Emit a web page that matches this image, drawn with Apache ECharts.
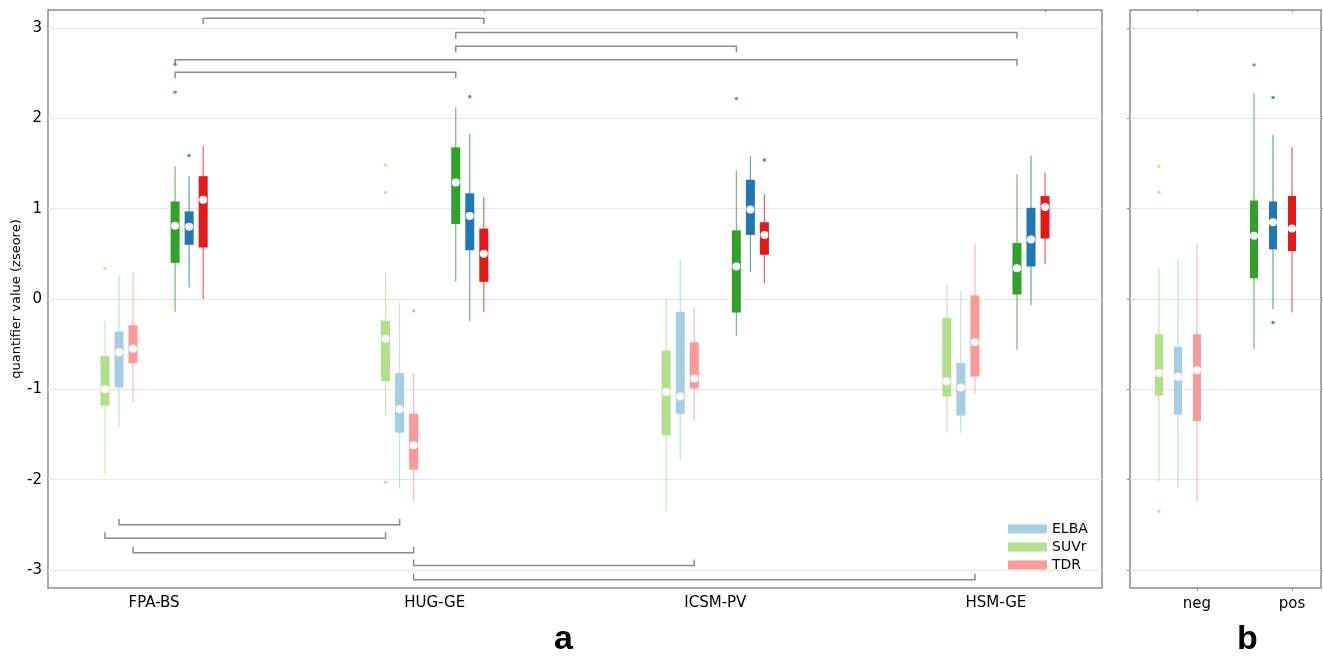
<!DOCTYPE html>
<html>
<head>
<meta charset="utf-8">
<script src="https://cdn.jsdelivr.net/npm/echarts@6/dist/echarts.min.js"></script>
<style>
html,body{margin:0;padding:0;background:#fff;}
#chart{width:1323px;height:657px;}
</style>
</head>
<body>
<div id="chart"></div>
<script>
// ---------------- DATA ----------------
const categoriesA = ['FPA-BS', 'HUG-GE', 'ICSM-PV', 'HSM-GE'];
const groupsB = ['neg', 'pos'];
const methods = ['SUVr', 'ELBA', 'TDR'];
const yTicks = [-3, -2, -1, 0, 1, 2, 3];

// box stats per category: [min, q1, median, q3, max]
const suvrNegA = [[-1.94, -1.18, -1.00, -0.63, -0.24], [-1.30, -0.91, -0.44, -0.24, 0.29], [-2.35, -1.51, -1.03, -0.57, 0.01], [-1.48, -1.08, -0.91, -0.21, 0.17]];
const elbaNegA = [[-1.42, -0.98, -0.59, -0.36, 0.27], [-2.09, -1.48, -1.22, -0.82, -0.04], [-1.79, -1.27, -1.08, -0.14, 0.44], [-1.48, -1.29, -0.98, -0.71, 0.09]];
const tdrNegA  = [[-1.14, -0.71, -0.55, -0.29, 0.29], [-2.24, -1.89, -1.62, -1.27, -0.82], [-1.35, -0.99, -0.88, -0.48, -0.09], [-1.05, -0.86, -0.48, 0.04, 0.61]];
const suvrPosA = [[-0.14, 0.40, 0.81, 1.08, 1.47], [0.19, 0.83, 1.29, 1.68, 2.12], [-0.41, -0.15, 0.36, 0.76, 1.42], [-0.56, 0.05, 0.34, 0.62, 1.38]];
const elbaPosA = [[0.13, 0.60, 0.80, 0.97, 1.36], [-0.25, 0.54, 0.92, 1.17, 1.83], [0.30, 0.71, 0.99, 1.32, 1.58], [-0.07, 0.36, 0.66, 1.01, 1.59]];
const tdrPosA  = [[0.00, 0.57, 1.10, 1.36, 1.69], [-0.14, 0.19, 0.50, 0.78, 1.13], [0.17, 0.49, 0.71, 0.85, 1.16], [0.39, 0.67, 1.02, 1.14, 1.40]];

// outliers: [categoryIndex, value]
const suvrNegOutA = [[0, 0.34], [1, 1.48], [1, 1.18], [1, -2.03]];
const elbaNegOutA = [];
const tdrNegOutA  = [[1, -0.13]];
const suvrPosOutA = [[0, 2.29], [0, 2.60], [2, 2.22]];
const elbaPosOutA = [[0, 1.59], [1, 2.24]];
const tdrPosOutA  = [[2, 1.54]];

// panel b: [neg, pos] each [min, q1, median, q3, max]
const suvrB = [[-2.02, -1.07, -0.82, -0.39, 0.34], [-0.56, 0.23, 0.70, 1.09, 2.28]];
const elbaB = [[-2.09, -1.28, -0.86, -0.53, 0.44], [-0.11, 0.55, 0.85, 1.08, 1.82]];
const tdrB  = [[-2.24, -1.35, -0.79, -0.39, 0.61], [-0.15, 0.53, 0.78, 1.14, 1.68]];
const suvrOutB = [[0, 1.47], [0, 1.18], [0, -2.35], [1, 2.59]];
const elbaOutB = [[1, 2.23], [1, -0.26]];
const tdrOutB  = [];

// significance brackets: [categoryFrom, categoryTo, method, group, yLevel]
const bracketsTop = [
  [0, 1, 'TDR', 'pos', 3.11],
  [1, 3, 'SUVr', 'pos', 2.95],
  [1, 2, 'SUVr', 'pos', 2.80],
  [0, 3, 'SUVr', 'pos', 2.65],
  [0, 1, 'SUVr', 'pos', 2.51]
];
const bracketsBottom = [
  [0, 1, 'ELBA', 'neg', -2.50],
  [0, 1, 'SUVr', 'neg', -2.65],
  [0, 1, 'TDR', 'neg', -2.81],
  [1, 2, 'TDR', 'neg', -2.95],
  [1, 3, 'TDR', 'neg', -3.11]
];

// ---------------- STYLE / LAYOUT ----------------
const FONT = 'DejaVu Sans';
const colors = [
  ['#b2df8a', '#a6cee3', '#fb9a99'], // neg (light)
  ['#33a02c', '#1f78b4', '#e31a1c']  // pos (dark)
];
const gray = '#8c8c8c';

function offA(m, g) { return (g === 0 ? -0.175 : 0.075) + 0.05 * m; }
function offB(m) { return (m - 1) * 0.2; }

function boxRender(w) {
  return function (params, api) {
    const x = api.value(0);
    const c = api.visual('color');
    const lo = api.coord([x, api.value(1)]);
    const q1 = api.coord([x, api.value(2)]);
    const md = api.coord([x, api.value(3)]);
    const q3 = api.coord([x, api.value(4)]);
    const hi = api.coord([x, api.value(5)]);
    return {
      type: 'group',
      children: [
        { type: 'line', shape: { x1: lo[0], y1: hi[1], x2: lo[0], y2: lo[1] }, style: { stroke: c, lineWidth: 1.2, opacity: 0.7 } },
        { type: 'rect', shape: { x: q3[0] - w / 2, y: q3[1], width: w, height: q1[1] - q3[1] }, style: { fill: c } },
        { type: 'circle', shape: { cx: md[0], cy: md[1], r: 4 }, style: { fill: '#ffffff' } }
      ]
    };
  };
}

function bracketRender(params, api) {
  const y = api.value(2);
  const dir = api.value(3);
  const p1 = api.coord([api.value(0), y]);
  const p2 = api.coord([api.value(1), y]);
  const t = 6 * dir;
  return {
    type: 'polyline',
    shape: { points: [[p1[0], p1[1] + t], [p1[0], p1[1]], [p2[0], p2[1]], [p2[0], p2[1] + t]] },
    style: { stroke: gray, lineWidth: 1.5, fill: null }
  };
}

const boxesA = [[suvrNegA, suvrPosA], [elbaNegA, elbaPosA], [tdrNegA, tdrPosA]];
const outA = [[suvrNegOutA, suvrPosOutA], [elbaNegOutA, elbaPosOutA], [tdrNegOutA, tdrPosOutA]];
const boxesB = [suvrB, elbaB, tdrB];
const outB = [suvrOutB, elbaOutB, tdrOutB];

const series = [];
for (let g = 0; g < 2; g++) {
  for (let m = 0; m < 3; m++) {
    series.push({
      type: 'custom',
      name: g === 0 ? methods[m] : methods[m] + ' pos',
      xAxisIndex: 0, yAxisIndex: 0,
      itemStyle: { color: colors[g][m] },
      renderItem: boxRender(9),
      data: boxesA[m][g].map((b, i) => [i + offA(m, g)].concat(b)),
      z: 3
    });
    series.push({
      type: 'scatter',
      name: methods[m] + (g === 0 ? ' neg' : ' pos') + ' out',
      xAxisIndex: 0, yAxisIndex: 0,
      symbolSize: 3.5,
      itemStyle: { color: colors[g][m] },
      data: outA[m][g].map(([i, v]) => [i + offA(m, g), v]),
      z: 4
    });
    series.push({
      type: 'custom',
      name: methods[m] + ' b ' + groupsB[g],
      xAxisIndex: 2, yAxisIndex: 1,
      itemStyle: { color: colors[g][m] },
      renderItem: boxRender(8),
      data: [[g + offB(m)].concat(boxesB[m][g])],
      z: 3
    });
    series.push({
      type: 'scatter',
      name: methods[m] + ' b ' + groupsB[g] + ' out',
      xAxisIndex: 2, yAxisIndex: 1,
      symbolSize: 3.5,
      itemStyle: { color: colors[g][m] },
      data: outB[m].filter(o => o[0] === g).map(([i, v]) => [i + offB(m), v]),
      z: 4
    });
  }
}
function bracketData(list, dir) {
  return list.map(([c1, c2, meth, grp, y]) => {
    const m = methods.indexOf(meth), g = grp === 'neg' ? 0 : 1;
    return [c1 + offA(m, g), c2 + offA(m, g), y, dir];
  });
}
series.push({
  type: 'custom', name: 'bracketsTop', xAxisIndex: 0, yAxisIndex: 0,
  renderItem: bracketRender, data: bracketData(bracketsTop, 1), z: 2, silent: true
});
series.push({
  type: 'custom', name: 'bracketsBottom', xAxisIndex: 0, yAxisIndex: 0,
  renderItem: bracketRender, data: bracketData(bracketsBottom, -1), z: 2, silent: true
});

const labelStyle = { fontFamily: FONT, fontSize: 15, color: '#000' };
const noLine = { show: false, onZero: false };

const option = {
  animation: false,
  backgroundColor: '#ffffff',
  grid: [
    { left: 48, top: 10, width: 1054, height: 578, show: true, borderColor: gray, borderWidth: 1.5, backgroundColor: 'transparent', containLabel: false, outerBoundsMode: 'none' },
    { left: 1130, top: 10, width: 191, height: 578, show: true, borderColor: gray, borderWidth: 1.5, backgroundColor: 'transparent', containLabel: false, outerBoundsMode: 'none' }
  ],
  xAxis: [
    {
      gridIndex: 0, type: 'value', min: -0.378, max: 3.378,
      axisLine: noLine, axisTick: { show: false }, splitLine: { show: false },
      axisLabel: Object.assign({ customValues: [0, 1, 2, 3], formatter: v => categoriesA[Math.round(v)], margin: 8 }, labelStyle)
    },
    {
      gridIndex: 0, type: 'value', position: 'top', min: -0.378, max: 3.378,
      axisLine: noLine, splitLine: { show: false }, axisLabel: { show: false },
      axisTick: { show: true, inside: true, customValues: [1.175, 3.175], length: 2, lineStyle: { color: gray } }
    },
    {
      gridIndex: 1, type: 'value', min: -0.505, max: 1.505,
      axisLine: noLine, splitLine: { show: false },
      axisTick: { show: true, customValues: [0.2, 1.2], length: 3, lineStyle: { color: gray } },
      axisLabel: Object.assign({ customValues: [0.2, 1.2], formatter: v => groupsB[Math.round(v - 0.2)], margin: 9 }, labelStyle)
    },
    {
      gridIndex: 1, type: 'value', position: 'top', min: -0.505, max: 1.505,
      axisLine: noLine, splitLine: { show: false }, axisLabel: { show: false },
      axisTick: { show: true, inside: true, customValues: [0.2, 1.2], length: 2, lineStyle: { color: gray } }
    }
  ],
  yAxis: [
    {
      gridIndex: 0, type: 'value', min: -3.2, max: 3.2,
      axisLine: noLine,
      axisTick: { show: false, customValues: yTicks },
      axisLabel: Object.assign({ customValues: yTicks, margin: 6 }, labelStyle),
      splitLine: { show: true, lineStyle: { color: '#e6e6e6', width: 1 } },
      name: 'quantifier value (zseore)', nameLocation: 'middle', nameGap: 25, nameMoveOverlap: false,
      nameTextStyle: { fontFamily: FONT, fontSize: 13, color: '#000' }
    },
    {
      gridIndex: 1, type: 'value', min: -3.2, max: 3.2,
      axisLine: noLine,
      axisTick: { show: true, customValues: yTicks, length: 3, lineStyle: { color: gray } },
      axisLabel: { show: false, customValues: yTicks },
      splitLine: { show: true, lineStyle: { color: '#e6e6e6', width: 1 } }
    },
    {
      gridIndex: 1, type: 'value', position: 'right', min: -3.2, max: 3.2,
      axisLine: noLine,
      axisTick: { show: true, customValues: yTicks, length: 3, lineStyle: { color: gray } },
      axisLabel: { show: false, customValues: yTicks },
      splitLine: { show: false }
    }
  ],
  legend: {
    orient: 'vertical', left: 1008, top: 522, padding: 0,
    itemWidth: 39, itemHeight: 9, itemGap: 4, icon: 'rect', selectedMode: false,
    textStyle: { fontFamily: FONT, fontSize: 14, color: '#000', lineHeight: 14 },
    data: [
      { name: 'ELBA', itemStyle: { color: colors[0][1] } },
      { name: 'SUVr', itemStyle: { color: colors[0][0] } },
      { name: 'TDR', itemStyle: { color: colors[0][2] } }
    ]
  },
  graphic: [
    { type: 'text', left: 554, top: 623, style: { text: 'a', font: 'bold 34px "Liberation Sans"', fill: '#000' } },
    { type: 'text', left: 1237, top: 623, style: { text: 'b', font: 'bold 34px "Liberation Sans"', fill: '#000' } }
  ],
  series: series
};

const chart = echarts.init(document.getElementById('chart'), null, { renderer: 'canvas' });
chart.setOption(option);
</script>
</body>
</html>
